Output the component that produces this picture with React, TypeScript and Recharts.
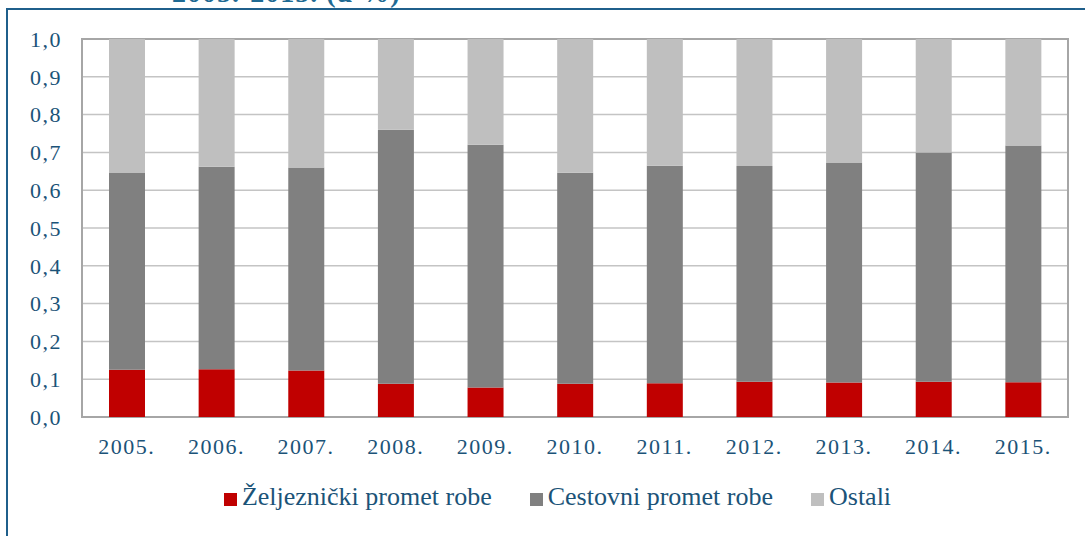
import { BarChart, Bar, XAxis, YAxis, CartesianGrid, ReferenceArea } from 'recharts'

const years = ['2005.', '2006.', '2007.', '2008.', '2009.', '2010.', '2011.', '2012.', '2013.', '2014.', '2015.']
const rail = [0.125, 0.126, 0.123, 0.088, 0.078, 0.088, 0.089, 0.093, 0.091, 0.093, 0.092]
const road = [0.522, 0.536, 0.537, 0.672, 0.642, 0.558, 0.576, 0.571, 0.581, 0.607, 0.626]
const other = [0.353, 0.338, 0.340, 0.240, 0.280, 0.354, 0.335, 0.336, 0.328, 0.300, 0.282]
const yTicks = [0, 0.1, 0.2, 0.3, 0.4, 0.5, 0.6, 0.7, 0.8, 0.9, 1]

const SERIES = [
    { key: 'rail', name: 'Željeznički promet robe', color: '#c00000' },
    { key: 'road', name: 'Cestovni promet robe', color: '#808080' },
    { key: 'other', name: 'Ostali', color: '#bfbfbf' },
]

const TEXT = '#1b5378'
const FONT = '"Liberation Serif", "DejaVu Serif", serif'

const data = years.map((year, i) => ({ year, rail: rail[i], road: road[i], other: other[i] }))

export default function App() {
    return (
        <div style={{ position: 'relative', width: 1085, height: 536, overflow: 'hidden', background: '#fff', fontFamily: FONT }}>
            <style>{'body{margin:0}'}</style>
            {/* title, cut off at the top of the picture */}
            <div style={{ position: 'absolute', left: 172, top: -23, fontSize: 28, fontWeight: 700, color: '#1f6a93', whiteSpace: 'nowrap', letterSpacing: 1 }}>
                2005.-2015. (u %)
            </div>
            {/* frame */}
            <div style={{ position: 'absolute', left: 6, top: 8, width: 1100, height: 600, borderTop: '2px solid #1f5f8b', borderLeft: '2px solid #1f5f8b' }} />

            <div style={{ position: 'absolute', left: 0, top: 0 }}>
                <BarChart width={1085} height={536} data={data} margin={{ top: 39, right: 17, left: 0, bottom: 89 }} barSize={36}>
                    <CartesianGrid vertical={false} stroke="#c4c4c4" strokeWidth={1.5} />
                    <XAxis
                        dataKey="year"
                        axisLine={false}
                        tickLine={false}
                        tickSize={0}
                        tickMargin={21}
                        height={30}
                        tick={{ fontSize: 22, fill: TEXT, fontFamily: FONT, letterSpacing: 1.5 }}
                    />
                    <YAxis
                        domain={[0, 1]}
                        ticks={yTicks}
                        interval={0}
                        width={82}
                        axisLine={false}
                        tickLine={false}
                        tickSize={0}
                        tickMargin={20}
                        tickFormatter={(v: number) => v.toFixed(1).replace('.', ',')}
                        tick={{ fontSize: 22, fill: TEXT, fontFamily: FONT, letterSpacing: 1.5 }}
                    />
                    {SERIES.map((s) => (
                        <Bar key={s.key} dataKey={s.key} name={s.name} stackId="a" fill={s.color} isAnimationActive={false} />
                    ))}
                    <ReferenceArea y1={0} y2={1} fill="none" stroke="#a6a6a6" strokeWidth={2} fillOpacity={0} />
                </BarChart>
            </div>

            {/* Legend */}
            <div style={{ position: 'absolute', left: 0, top: 481, width: 1085, display: 'flex', justifyContent: 'center', gap: 38, color: TEXT, fontSize: 26, lineHeight: '32px', paddingLeft: 30, boxSizing: 'border-box' }}>
                {SERIES.map((s) => (
                    <div key={s.key} style={{ display: 'flex', alignItems: 'center', gap: 5 }}>
                        <div style={{ width: 13, height: 13, background: s.color, marginTop: 5 }} />
                        <span>{s.name}</span>
                    </div>
                ))}
            </div>
        </div>
    )
}
